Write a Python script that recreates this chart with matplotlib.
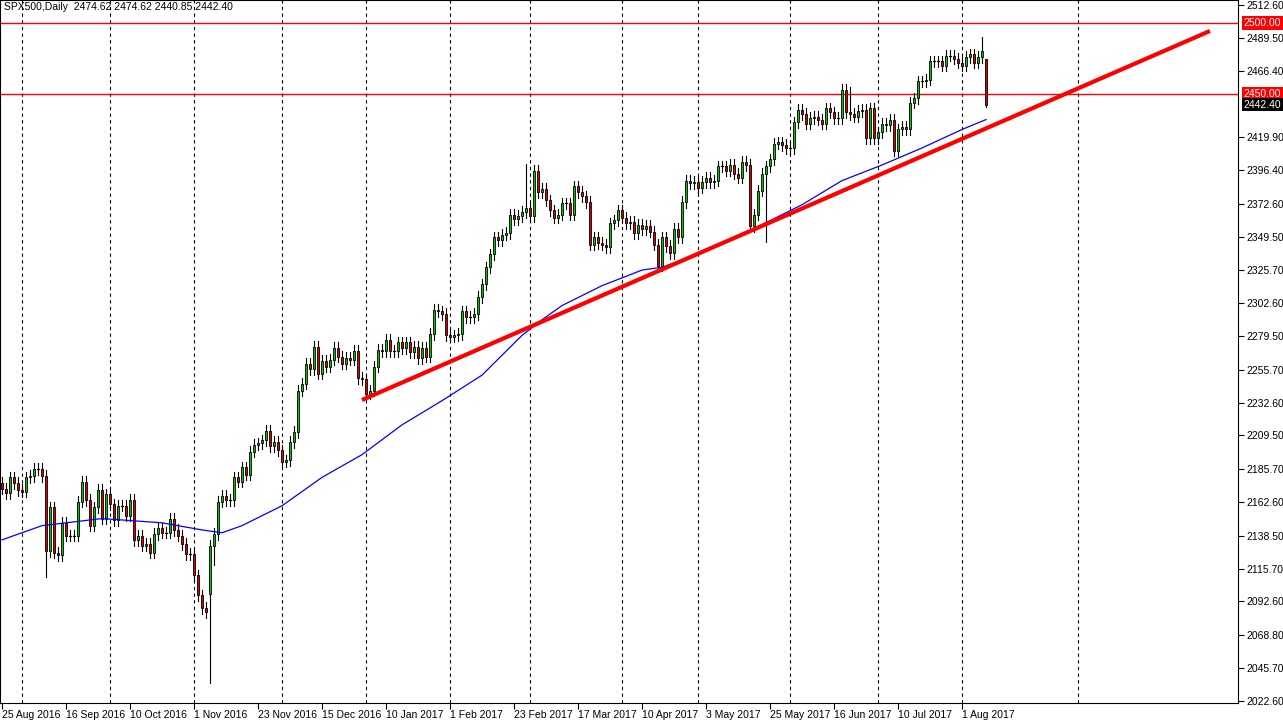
import matplotlib.pyplot as plt
from matplotlib.patches import Rectangle

plt.rcParams['font.family'] = ['Liberation Sans', 'DejaVu Sans']

# daily closes, chart bar order (CFD keeps a few holiday sessions)
CLOSES = [
    2172, 2169, 2180, 2176, 2171, 2170, 2180, 2181, 2186, 2186, 2181, 2128, 2159, 2127, 2125, 2148,
    2139, 2139, 2139, 2163, 2177, 2164, 2146, 2159, 2171, 2151, 2168, 2161, 2150, 2160, 2160, 2153,
    2164, 2136, 2139, 2132, 2133, 2127, 2140, 2144, 2141, 2141, 2151, 2143, 2139, 2133, 2126, 2126,
    2111, 2097, 2088, 2085, 2132, 2140, 2163, 2167, 2164, 2164, 2180, 2177, 2187, 2182, 2198, 2203,
    2204, 2206, 2213, 2202, 2205, 2199, 2191, 2192, 2205, 2212, 2241, 2246, 2260, 2256, 2272, 2253,
    2262, 2258, 2263, 2271, 2265, 2260, 2264, 2263, 2269, 2250, 2249, 2239, 2241, 2258, 2270, 2269,
    2277, 2269, 2269, 2275, 2271, 2275, 2268, 2272, 2264, 2271, 2265, 2281, 2298, 2297, 2295, 2280,
    2279, 2280, 2281, 2297, 2293, 2293, 2295, 2307, 2316, 2328, 2337, 2349, 2347, 2351, 2352, 2365,
    2362, 2364, 2367, 2370, 2364, 2396, 2381, 2383, 2375, 2368, 2363, 2365, 2373, 2373, 2365, 2385,
    2381, 2378, 2374, 2344, 2349, 2345, 2344, 2342, 2359, 2361, 2368, 2363, 2359, 2360, 2352, 2358,
    2355, 2357, 2353, 2344, 2329, 2349, 2343, 2338, 2355, 2349, 2374, 2389, 2387, 2388, 2384, 2388,
    2391, 2388, 2389, 2399, 2399, 2396, 2400, 2394, 2391, 2402, 2400, 2357, 2365, 2382, 2394, 2399,
    2404, 2415, 2416, 2414, 2412, 2412, 2430, 2439, 2436, 2429, 2433, 2434, 2432, 2429, 2440, 2437,
    2433, 2433, 2453, 2437, 2436, 2434, 2438, 2439, 2419, 2440, 2419, 2423, 2429, 2428, 2432, 2410,
    2425, 2427, 2425, 2444, 2447, 2459, 2459, 2460, 2473, 2473, 2473, 2470, 2477, 2477, 2475, 2472,
    2470, 2476, 2478, 2472, 2476, 2480, 2442.4,
]
OPEN_OVERRIDE = {52: 2098, 246: 2474.6}
HIGH_OVERRIDE = {131: 2401, 212: 2455, 245: 2490, 246: 2474.6}
LOW_OVERRIDE = {52: 2035, 53: 2118, 191: 2346, 11: 2110, 246: 2440.85}

MA_IDX = [0, 10, 25, 40, 50, 55, 60, 70, 80, 90, 100, 110, 120, 130, 135, 140, 150, 160,
          165, 170, 180, 190, 200, 210, 220, 230, 240, 246]
MA_VAL = [2136, 2146, 2151, 2148, 2143, 2141, 2146, 2160, 2180, 2196, 2217, 2234, 2252, 2280,
          2291, 2301, 2315, 2326, 2328, 2333, 2345, 2358, 2372, 2389, 2400, 2412, 2425, 2432]

TREND_X = [90, 302]
TREND_Y = [2234.5, 2494.4]
LEVELS = [2500.0, 2450.0]

YTICKS = [2512.60, 2489.50, 2466.40, 2419.90, 2396.40, 2372.60, 2349.50, 2325.70, 2302.60,
          2279.50, 2255.70, 2232.60, 2209.50, 2185.70, 2162.60, 2138.50, 2115.70, 2092.60,
          2068.80, 2045.70, 2022.60]
XLABELS = ["25 Aug 2016", "16 Sep 2016", "10 Oct 2016", "1 Nov 2016", "23 Nov 2016",
           "15 Dec 2016", "10 Jan 2017", "1 Feb 2017", "23 Feb 2017", "17 Mar 2017",
           "10 Apr 2017", "3 May 2017", "25 May 2017", "16 Jun 2017", "10 Jul 2017", "1 Aug 2017"]
GRID_IDX = [5, 27, 48, 70, 91, 112, 132, 155, 174, 197, 219, 240, 269]

fig = plt.figure(figsize=(12.83, 7.24), dpi=100)
ax = fig.add_axes([0, 21 / 724, 1238 / 1283, 703 / 724])
ax.set_xlim(-0.5, 309)
ax.set_ylim(2021.1, 2516.2)

for g in GRID_IDX:
    ax.axvline(g, color="black", lw=0.8, ls=(0, (3, 3)), zorder=1)

for i, c in enumerate(CLOSES):
    o = OPEN_OVERRIDE.get(i, CLOSES[i - 1] if i > 0 else 2176)
    h = HIGH_OVERRIDE.get(i, max(o, c) + 4)
    lo = LOW_OVERRIDE.get(i, min(o, c) - 4)
    ax.plot([i, i], [lo, h], color="black", lw=0.8, zorder=3)
    col = "#00c800" if c >= o else "#e00000"
    bot, top = min(o, c), max(o, c)
    if top - bot < 0.8:
        ax.plot([i - 0.3, i + 0.3], [c, c], color="black", lw=0.8, zorder=4)
    else:
        ax.add_patch(Rectangle((i - 0.28, bot), 0.56, top - bot, facecolor=col,
                               edgecolor="black", lw=0.6, zorder=4))

ax.plot(MA_IDX, MA_VAL, color="#0000ff", lw=0.9, zorder=5)
ax.plot(TREND_X, TREND_Y, color="#ff0000", lw=3, zorder=6, solid_capstyle="butt")
for lv in LEVELS:
    ax.axhline(lv, color="#ff0000", lw=1, zorder=2)

ax.yaxis.tick_right()
ax.set_yticks(YTICKS)
ax.set_yticklabels([f"{v:.2f}" for v in YTICKS], fontsize=7.5)
ax.tick_params(axis="y", length=4, pad=2)
for lv, fc in [(2500.0, "#ff0000"), (2450.0, "#ff0000"), (2442.40, "black")]:
    ax.text(1.0045, (lv - 2021.1) / (2516.2 - 2021.1), f"{lv:.2f}", transform=ax.transAxes,
            fontsize=7.5, color="white", va="center", ha="left",
            bbox=dict(facecolor=fc, edgecolor="none", pad=1.2))

ax.set_xticks(range(0, 16 * len(XLABELS), 16))
ax.set_xticklabels(XLABELS, fontsize=7.5, ha="left")
ax.tick_params(axis="x", length=4, pad=1)

ax.text(0.003, 0.997, "SPX500,Daily  2474.62 2474.62 2440.85 2442.40", transform=ax.transAxes,
        fontsize=7.5, va="top", ha="left")

fig.savefig("out.png", dpi=100)
